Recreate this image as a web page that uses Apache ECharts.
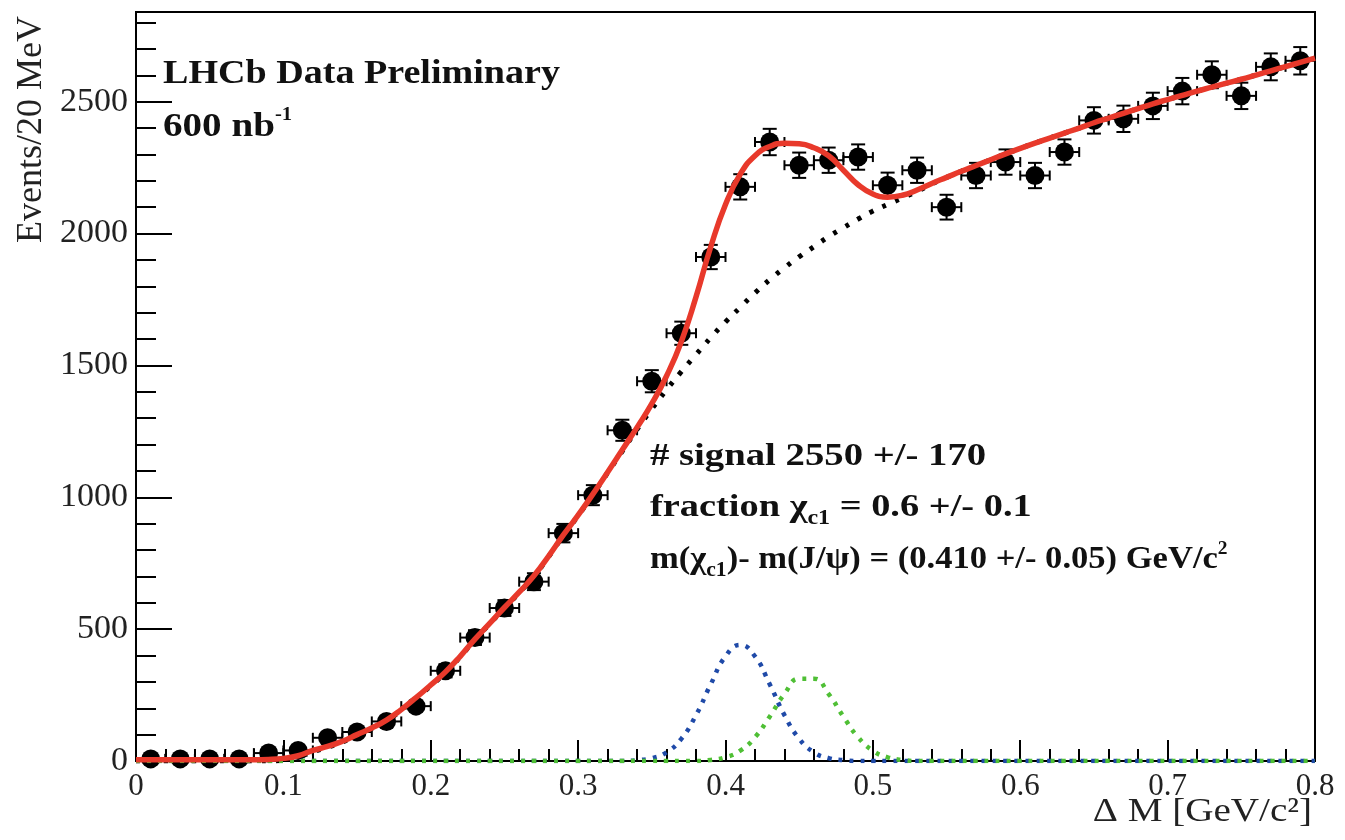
<!DOCTYPE html>
<html><head><meta charset="utf-8">
<script src="https://cdn.jsdelivr.net/npm/echarts@6/dist/echarts.min.js"></script>
<style>html,body{margin:0;padding:0;background:#fff}#c{width:1345px;height:840px}</style>
</head><body><div id="c"></div><script>
// ---- data ----
const binCenters = [0.01,0.03,0.05,0.07,0.09,0.11,0.13,0.15,0.17,0.19,0.21,0.23,0.25,0.27,0.29,0.31,0.33,0.35,0.37,0.39,0.41,0.43,0.45,0.47,0.49,0.51,0.53,0.55,0.57,0.59,0.61,0.63,0.65,0.67,0.69,0.71,0.73,0.75,0.77,0.79];
const counts = [8,8,8,8,30,40,88,110,150,208,342,468,580,680,864,1008,1254,1440,1622,1911,2177,2347,2259,2278,2290,2183,2240,2100,2220,2271,2220,2309,2429,2435,2484,2540,2602,2522,2632,2655];
const countErrors = [4,4,4,4,8,10,15,16,18,20,25,28,30,32,35,38,40,42,44,46,48,50,48,48,48,48,48,47,48,48,48,48,50,50,50,50,51,50,51,52];
const binHalfWidth = 0.01;
const curveX = [0,0.01,0.02,0.03,0.04,0.05,0.06,0.07,0.08,0.09,0.1,0.11,0.12,0.13,0.14,0.15,0.16,0.17,0.18,0.19,0.2,0.21,0.22,0.23,0.24,0.25,0.26,0.27,0.28,0.29,0.3,0.31,0.32,0.33,0.34,0.35,0.36,0.37,0.38,0.39,0.4,0.41,0.42,0.43,0.44,0.45,0.46,0.47,0.48,0.49,0.5,0.51,0.52,0.53,0.54,0.55,0.56,0.57,0.58,0.59,0.6,0.61,0.62,0.63,0.64,0.65,0.66,0.67,0.68,0.69,0.7,0.71,0.72,0.73,0.74,0.75,0.76,0.77,0.78,0.79,0.8];
const fitTotal = [5,5,5,5,5,5,5,5,5,6,10,20,40,55,75,100,125,155,195,240,288,338,397,462,522,582,640,702,777,857,932,1012,1095,1180,1265,1355,1460,1590,1760,1950,2110,2225,2295,2330,2342,2340,2325,2295,2240,2185,2150,2138,2145,2165,2190,2213,2236,2258,2280,2302,2323,2343,2362,2381,2400,2420,2438,2456,2474,2492,2508,2524,2540,2555,2570,2585,2601,2617,2633,2649,2665];
const background = [0,0,0,0,0,0,0,0,0,0,3,15,35,52,72,97,122,152,192,237,285,335,395,460,520,580,638,700,775,855,930,1010,1093,1175,1258,1335,1408,1476,1541,1605,1665,1720,1775,1825,1870,1912,1950,1988,2022,2055,2085,2110,2135,2160,2188,2213,2236,2258,2280,2302,2323,2343,2362,2381,2400,2420,2438,2456,2474,2492,2508,2524,2540,2555,2570,2585,2601,2617,2633,2649,2665];
const chic1 = [0,0,0,0,0,0,0,0,0,0,0,0,0,0,0,0,0,0,0,0,0,0,0,0,0,0,0,0,0,0,0,0,0,0,3,11,33,84,174,291,397,440,397,291,174,84,33,11,3,0,0,0,0,0,0,0,0,0,0,0,0,0,0,0,0,0,0,0,0,0,0,0,0,0,0,0,0,0,0,0,0];
const chic2 = [0,0,0,0,0,0,0,0,0,0,0,0,0,0,0,0,0,0,0,0,0,0,0,0,0,0,0,0,0,0,0,0,0,0,0,0,0,0,0,4,14,39,90,168,254,312,312,254,168,90,39,14,4,0,0,0,0,0,0,0,0,0,0,0,0,0,0,0,0,0,0,0,0,0,0,0,0,0,0,0,0];
const yMajorTicks = [0,500,1000,1500,2000,2500];
const yMinorTicks = [0,100,200,300,400,500,600,700,800,900,1000,1100,1200,1300,1400,1500,1600,1700,1800,1900,2000,2100,2200,2300,2400,2500,2600,2700,2800];
const yMax = 2840;
const xMin = 0, xMax = 0.8, xStep = 0.1;

// ---- build ----
const pts = binCenters.map((x,i)=>[x,counts[i],countErrors[i],binHalfWidth]);
const curve = arr => curveX.map((x,i)=>[x,arr[i]]);
const serif = '"Liberation Serif","Times New Roman",serif';
const chart = echarts.init(document.getElementById('c'), null, {renderer:'canvas'});
chart.setOption({
  animation:false,
  backgroundColor:'#fff',
  grid:{left:136,right:30,top:12,bottom:79,show:true,borderColor:'#000',borderWidth:2,containLabel:false,outerBoundsMode:'none'},
  xAxis:{type:'value',min:xMin,max:xMax,interval:xStep,
    axisLine:{show:true,onZero:false,lineStyle:{color:'#000',width:2}},
    axisTick:{show:true,inside:true,length:21,lineStyle:{color:'#000',width:2}},
    minorTick:{show:true,splitNumber:5,length:12,lineStyle:{color:'#000',width:2}},
    splitLine:{show:false},minorSplitLine:{show:false},
    axisLabel:{fontFamily:serif,fontSize:31,color:'#222',margin:10,formatter:v=>String(+v.toFixed(2))}},
  yAxis:[{type:'value',min:0,max:yMax,position:'left',
    axisLine:{show:true,lineStyle:{color:'#000',width:2}},
    axisTick:{show:true,inside:true,length:36,customValues:yMajorTicks,lineStyle:{color:'#000',width:2}},
    splitLine:{show:false},
    axisLabel:{customValues:yMajorTicks,fontFamily:serif,fontSize:34,color:'#222',margin:8,formatter:v=>String(v)}},
   {type:'value',min:0,max:yMax,position:'left',offset:0,
    axisLine:{show:false},axisLabel:{show:false},splitLine:{show:false},
    axisTick:{show:true,inside:true,length:20,customValues:yMinorTicks,lineStyle:{color:'#000',width:2}}}],
  series:[
    {type:'custom',name:'errors',clip:true,data:pts,z:3,
     renderItem:function(params,api){
       const x=api.value(0),y=api.value(1),e=api.value(2),hw=api.value(3);
       const c=api.coord([x,y]),l=api.coord([x-hw,y]),r=api.coord([x+hw,y]);
       const t=api.coord([x,y+e]),b=api.coord([x,y-e]);
       const st={stroke:'#000',lineWidth:2};
       const cy=c[1],cx=c[0];
       return {type:'group',children:[
         {type:'line',shape:{x1:l[0],y1:cy,x2:r[0],y2:cy},style:st},
         {type:'line',shape:{x1:l[0],y1:cy-5,x2:l[0],y2:cy+5},style:st},
         {type:'line',shape:{x1:r[0],y1:cy-5,x2:r[0],y2:cy+5},style:st},
         {type:'line',shape:{x1:cx,y1:t[1],x2:cx,y2:b[1]},style:st},
         {type:'line',shape:{x1:cx-7,y1:t[1],x2:cx+7,y2:t[1]},style:st},
         {type:'line',shape:{x1:cx-7,y1:b[1],x2:cx+7,y2:b[1]},style:st}
       ]};
     }},
    {type:'scatter',name:'data',data:pts.map(p=>[p[0],p[1]]),symbol:'circle',symbolSize:19,itemStyle:{color:'#000',opacity:1},z:4},
    {type:'line',name:'background',data:curve(background),showSymbol:false,smooth:true,z:5,
     lineStyle:{color:'#000',width:5,type:[4,10]}},
    {type:'line',name:'chic1',data:curve(chic1),showSymbol:false,smooth:true,z:5,
     lineStyle:{color:'#1f4aa8',width:4.5,type:[4,7]}},
    {type:'line',name:'chic2',data:curve(chic2),showSymbol:false,smooth:true,z:5,
     lineStyle:{color:'#4fbf35',width:4.5,type:[4,7]}},
    {type:'line',name:'fit',data:curve(fitTotal),showSymbol:false,smooth:true,z:6,
     lineStyle:{color:'#e8392b',width:5.5}}
  ],
  graphic:[
    {type:'text',x:32,y:16,rotation:Math.PI/2,style:{text:'Events/20 MeV',font:'36px '+serif,fill:'#222',align:'right',verticalAlign:'middle'}},
    {type:'text',x:1312,y:812,scaleX:1.15,style:{text:'\u0394 M [GeV/c\u00b2]',font:'34px '+serif,fill:'#222',align:'right',verticalAlign:'middle'}},
    {type:'text',x:163,y:74,scaleX:1.12,style:{text:'LHCb Data Preliminary',font:'bold 34px '+serif,fill:'#111',verticalAlign:'middle'}},
    {type:'text',x:163,y:127,scaleX:1.15,style:{text:'{a|600 nb}{s|-1}',verticalAlign:'middle',
      rich:{a:{font:'bold 34px '+serif,fill:'#111'},s:{font:'bold 18px '+serif,fill:'#111',padding:[0,0,24,0]}}}},
    {type:'text',x:650,y:457,scaleX:1.21,style:{text:'# signal 2550 +/- 170',font:'bold 32px '+serif,fill:'#111',verticalAlign:'middle'}},
    {type:'text',x:650,y:508,scaleX:1.2,style:{text:'{a|fraction \u03c7}{s|c1}{a| = 0.6 +/- 0.1}',verticalAlign:'middle',
      rich:{a:{font:'bold 32px '+serif,fill:'#111'},s:{font:'bold 20px '+serif,fill:'#111',padding:[22,0,0,0]}}}},
    {type:'text',x:650,y:560,scaleX:1.08,style:{text:'{a|m(\u03c7}{s|c1}{a|)- m(J/\u03c8) = (0.410 +/- 0.05) GeV/c}{p|2}',verticalAlign:'middle',
      rich:{a:{font:'bold 32px '+serif,fill:'#111'},s:{font:'bold 20px '+serif,fill:'#111',padding:[22,0,0,0]},p:{font:'bold 18px '+serif,fill:'#111',padding:[0,0,22,0]}}}}
  ]
});
</script></body></html>
